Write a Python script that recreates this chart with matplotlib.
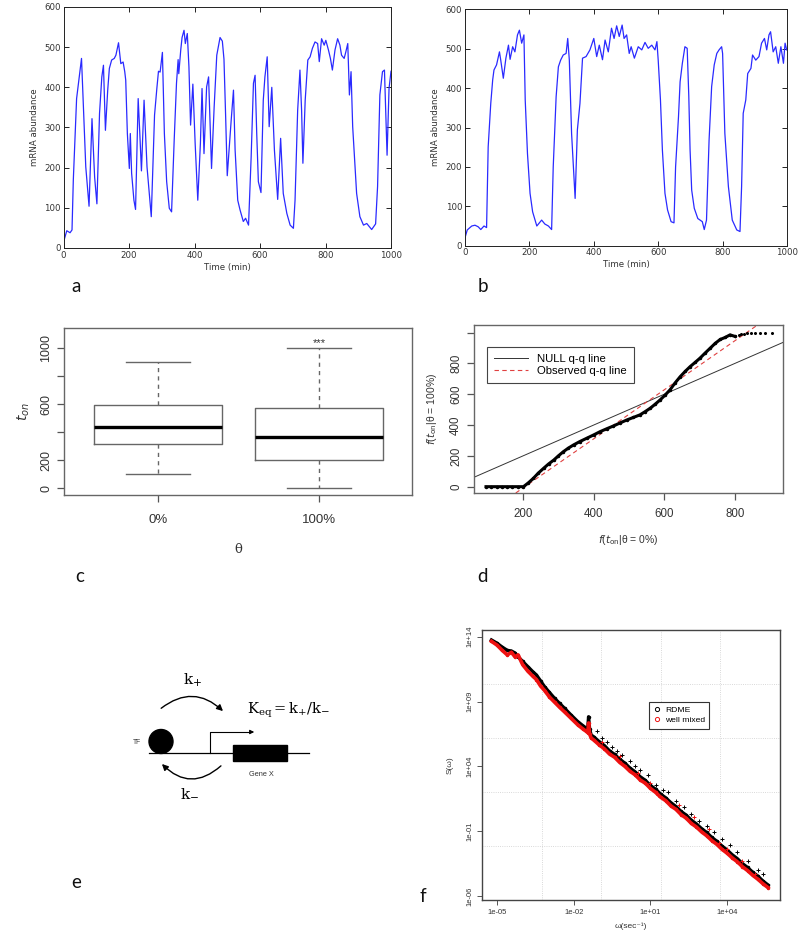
import matplotlib
matplotlib.use("Agg")
import matplotlib.pyplot as plt
import numpy as np
from matplotlib.lines import Line2D
from matplotlib.patches import Circle, FancyArrowPatch, Rectangle

W, H = 799, 940

# ---- panel a: mRNA trace (theta = 0%) ----
time_a = [0, 2, 10, 20, 26, 30, 35, 40, 45, 55, 60, 68, 78, 87, 95, 102, 110, 117, 122, 128,
          135, 140, 147, 155, 160, 168, 175, 182, 187, 190, 195, 201, 204, 208, 215, 220, 228,
          233, 238, 246, 255, 268, 278, 285, 290, 295, 302, 308, 315, 323, 330, 338, 345, 350,
          352, 358, 362, 368, 372, 378, 383, 388, 395, 402, 410, 418, 423, 429, 437, 443, 452,
          460, 468, 478, 485, 490, 495, 500, 506, 512, 519, 524, 532, 539, 549, 556, 565, 573,
          580, 585, 590, 595, 603, 610, 615, 622, 628, 636, 644, 654, 663, 671, 682, 692, 702,
          707, 715, 722, 727, 731, 738, 746, 753, 760, 768, 776, 781, 788, 796, 801, 809, 815,
          821, 829, 837, 844, 849, 857, 862, 868, 873, 878, 883, 895, 905, 916, 926, 941, 953,
          959, 966, 974, 980, 988, 994, 1000]
mrna_a = [15, 20, 43, 38, 45, 170, 270, 372, 405, 472, 368, 202, 104, 322, 177, 110, 335, 426,
          455, 293, 393, 447, 468, 472, 480, 511, 459, 463, 439, 418, 285, 198, 285, 186, 119,
          96, 372, 285, 192, 368, 202, 78, 331, 397, 440, 438, 487, 285, 165, 99, 90, 269, 410,
          469, 434, 493, 524, 542, 509, 534, 451, 306, 408, 260, 119, 260, 397, 235, 401, 426,
          198, 351, 480, 524, 515, 470, 330, 180, 250, 318, 393, 244, 119, 95, 66, 74, 57, 227,
          410, 430, 285, 165, 138, 368, 426, 476, 302, 400, 244, 121, 273, 136, 86, 57, 49,
          119, 343, 443, 343, 211, 368, 468, 476, 497, 513, 509, 464, 521, 505, 517, 493, 472,
          443, 493, 521, 505, 480, 472, 488, 509, 381, 439, 302, 136, 78, 57, 61, 46, 60, 153,
          381, 439, 443, 231, 397, 440]

# ---- panel b: mRNA trace (theta = 100%) ----
time_b = [0, 1, 7, 21, 31, 41, 49, 59, 67, 72, 80, 86, 90, 98, 107, 111, 119, 127, 135, 140,
          148, 155, 163, 169, 176, 183, 187, 194, 202, 210, 223, 238, 248, 259, 269, 274, 283,
          290, 297, 305, 314, 319, 324, 331, 342, 349, 357, 365, 376, 388, 400, 409, 417, 427,
          435, 445, 455, 463, 471, 479, 488, 494, 502, 510, 516, 526, 538, 549, 559, 569, 580,
          590, 596, 600, 607, 613, 621, 629, 640, 649, 654, 663, 668, 675, 683, 690, 695, 699,
          704, 712, 723, 737, 743, 750, 758, 766, 774, 782, 789, 797, 800, 807, 818, 830, 844,
          854, 859, 864, 872, 878, 888, 893, 903, 913, 921, 930, 937, 944, 949, 957, 965, 973,
          981, 989, 994, 999]
mrna_b = [2, 23, 40, 50, 52, 48, 41, 50, 46, 251, 361, 421, 446, 459, 492, 471, 425, 476, 509,
          473, 505, 492, 535, 547, 514, 535, 370, 234, 133, 86, 50, 65, 55, 50, 41, 200, 378,
          454, 471, 484, 488, 526, 471, 285, 120, 294, 361, 476, 480, 497, 526, 480, 509, 472,
          522, 492, 552, 526, 558, 531, 560, 526, 535, 488, 505, 476, 505, 497, 516, 501, 509,
          497, 518, 471, 370, 243, 133, 91, 61, 58, 200, 327, 416, 463, 505, 501, 380, 243,
          141, 95, 69, 61, 41, 65, 268, 404, 459, 488, 497, 505, 488, 285, 150, 65, 40, 36,
          150, 336, 370, 437, 450, 484, 471, 480, 514, 526, 497, 535, 543, 492, 505, 463, 505,
          463, 514, 497]

# ---- panel c: t_on boxplots ----
theta_labels = ["0%", "100%"]
box_med = [438, 364]
box_q1 = [312, 200]
box_q3 = [593, 569]
box_whislo = [98, 0]
box_whishi = [902, 1000]

# ---- panel d: q-q plot ----
qq_x = [95, 110, 125, 140, 155, 170, 185, 201, 215, 229, 243, 258, 272, 287, 300, 314, 328,
        343, 360, 380, 400, 418, 437, 456, 475, 494, 512, 531, 545, 560, 574, 588, 602, 616,
        630, 645, 659, 673, 687, 701, 715, 730, 744, 758, 772, 786, 800]
qq_y = [0, 0, 0, 0, 0, 0, 0, 0, 25, 54, 88, 119, 147, 173, 200, 227, 250, 271, 292, 314, 336,
        357, 376, 394, 414, 433, 449, 466, 486, 509, 535, 563, 594, 628, 672, 714, 748, 779,
        806, 834, 866, 899, 930, 955, 968, 985, 975]
qq_tail_x = [810, 818, 826, 834, 845, 858, 872, 885, 905]
qq_tail_y = [985, 990, 993, 995, 997, 998, 999, 1000, 1000]
null_line = (0.0, 1.0)          # intercept, slope
observed_line = [(205, 0), (835, 1003)]

# ---- panel f: power spectra (log10 omega, log10 S) ----
f_lx = [-5.22, -5.0, -4.8, -4.6, -4.44, -4.3, -4.18, -4.0, -3.8, -3.6, -3.46, -3.3, -3.14,
        -2.95, -2.75, -2.55, -2.36, -2.1, -1.84, -1.65, -1.51, -1.45, -1.42, -1.38, -1.32,
        -1.2, -1.0, -0.8, -0.6, -0.4, -0.2, 0.0, 0.2, 0.4, 0.6, 0.8, 1.0, 1.2, 1.4, 1.6, 1.8,
        2.0, 2.2, 2.4, 2.6, 2.8, 3.0, 3.2, 3.4, 3.6, 3.8, 4.0, 4.2, 4.4, 4.6, 4.8, 5.0, 5.2,
        5.4, 5.6]
rdme_ly = [13.75, 13.5, 13.2, 12.95, 12.9, 12.75, 12.46, 12.1, 11.7, 11.3, 11.05, 10.6, 10.14,
           9.7, 9.25, 8.85, 8.48, 7.95, 7.45, 7.15, 6.94, 7.0, 7.83, 6.9, 6.42, 6.25, 5.9,
           5.6, 5.2, 4.92, 4.55, 4.25, 3.87, 3.58, 3.2, 2.92, 2.53, 2.24, 1.86, 1.57, 1.2,
           0.9, 0.52, 0.24, -0.15, -0.44, -0.8, -1.1, -1.48, -1.78, -2.15, -2.45, -2.82,
           -3.12, -3.5, -3.8, -4.16, -4.46, -4.84, -5.15]
mixed_ly = [13.65, 13.35, 12.95, 12.6, 12.8, 12.45, 12.6, 11.85, 11.35, 10.95, 10.7, 10.2,
            9.85, 9.35, 8.95, 8.55, 8.2, 7.7, 7.2, 6.9, 6.7, 6.6, 7.35, 6.5, 6.2, 6.0, 5.65,
            5.35, 4.95, 4.7, 4.3, 4.0, 3.62, 3.35, 2.95, 2.7, 2.3, 2.0, 1.62, 1.35, 0.95,
            0.68, 0.28, 0.0, -0.4, -0.68, -1.05, -1.35, -1.72, -2.02, -2.4, -2.7, -3.06,
            -3.36, -3.74, -4.04, -4.4, -4.7, -5.05, -5.35]
rdme_out_lx = [-1.1, -0.9, -0.7, -0.5, -0.3, -0.1, 0.2, 0.4, 0.6, 0.9, 1.2, 1.5, 1.7, 2.0,
               2.3, 2.6, 2.9, 3.2, 3.5, 3.8, 4.1, 4.4, 4.8, 5.2, 5.4]
rdme_out_ly = [6.7, 6.2, 5.9, 5.5, 5.2, 4.9, 4.4, 4.0, 3.7, 3.3, 2.6, 2.2, 2.0, 1.3, 0.9,
               0.3, -0.2, -0.6, -1.1, -1.6, -2.1, -2.6, -3.3, -4.0, -4.3]
mixed_out_lx = [-0.9, -0.2, 0.5, 1.0, 1.3, 2.1, 2.7, 3.3, 3.7, 4.0, 4.6, 5.1]
mixed_out_ly = [5.9, 4.8, 3.5, 2.7, 1.8, 1.0, 0.1, -0.8, -1.9, -2.4, -3.3, -4.3]

BLUE = "#2a2aff"


def px_rect(left, top, right, bottom):
    return [left / W, 1 - bottom / H, (right - left) / W, (bottom - top) / H]


def draw_trace(ax, t, v):
    ax.plot(t, v, color=BLUE, lw=0.9)
    ax.set_xlim(0, 1000)
    ax.set_ylim(0, 600)
    ax.set_xticks(range(0, 1001, 200))
    ax.set_yticks(range(0, 601, 100))
    ax.tick_params(direction="in", top=True, right=True, length=3.5, width=0.6,
                   labelsize=6.2, labelcolor="#333333", pad=2)
    for s in ax.spines.values():
        s.set_linewidth(0.7)
        s.set_color("#222222")
    ax.set_xlabel("Time (min)", fontsize=6.2, color="#333333", labelpad=2)
    ax.set_ylabel("mRNA abundance", fontsize=6.2, color="#333333", labelpad=4)
    for lab in ax.get_xticklabels() + ax.get_yticklabels():
        lab.set_family("DejaVu Sans")
    ax.xaxis.label.set_family("DejaVu Sans")
    ax.yaxis.label.set_family("DejaVu Sans")


def r_style(ax):
    for side in ["top", "right", "left", "bottom"]:
        ax.spines[side].set_color("#666666")
        ax.spines[side].set_linewidth(1.0)
    ax.tick_params(direction="out", length=5, width=0.9, color="#555555")


fig = plt.figure(figsize=(W / 100, H / 100), dpi=100)
plt.rcParams["font.family"] = ["Liberation Sans", "DejaVu Sans"]

# a and b
ax_a = fig.add_axes(px_rect(63.5, 7, 391, 248))
draw_trace(ax_a, time_a, mrna_a)
ax_b = fig.add_axes(px_rect(465, 9.3, 787, 245.7))
draw_trace(ax_b, time_b, mrna_b)

# c
ax_c = fig.add_axes(px_rect(64, 328, 412, 495))
stats = []
for i in range(2):
    stats.append(dict(med=box_med[i], q1=box_q1[i], q3=box_q3[i],
                      whislo=box_whislo[i], whishi=box_whishi[i], fliers=[]))
ax_c.bxp(stats, positions=[1, 2], widths=0.8, showfliers=False,
         boxprops=dict(color="#666666", lw=1.0),
         medianprops=dict(color="black", lw=2.4),
         whiskerprops=dict(color="#666666", lw=1.0, ls=(0, (3, 3))),
         capprops=dict(color="#666666", lw=1.0))
ax_c.set_xlim(0.416, 2.578)
ax_c.set_ylim(-50, 1143)
r_style(ax_c)
ax_c.set_xticks([1, 2])
ax_c.set_xticklabels(theta_labels, fontsize=9.5, color="#333333")
ax_c.tick_params(axis="x", pad=9)
ax_c.set_yticks([0, 200, 400, 600, 800, 1000])
ax_c.set_yticklabels(["0", "200", "", "600", "", "1000"], rotation=90, va="center",
                     fontsize=9, color="#333333")
ax_c.set_xlabel("θ", fontsize=9.5, labelpad=12, color="#333333",
                family=["DejaVu Serif"])
ax_c.set_ylabel(r"$t_{on}$", fontsize=10, labelpad=6, color="#333333")
ax_c.text(2, 1000, "***", ha="center", va="bottom", fontsize=8, color="#333333")

# d
ax_d = fig.add_axes(px_rect(474, 325, 783, 493))
ax_d.set_xlim(61, 936)
ax_d.set_ylim(-41, 1049)
xx = np.array([61, 936])
ax_d.plot(xx, null_line[0] + null_line[1] * xx, color="#333333", lw=0.7)
(ox0, oy0), (ox1, oy1) = observed_line
ax_d.axline((ox0, oy0), (ox1, oy1), color="#e04040", lw=0.8, ls=(0, (4, 3)))
ax_d.plot(qq_x, qq_y, color="black", lw=2.2, marker="o", ms=1.5)
ax_d.plot(qq_tail_x, qq_tail_y, ls="none", marker="o", ms=1.2, color="black")
r_style(ax_d)
ax_d.set_xticks([200, 400, 600, 800])
ax_d.set_xticklabels(["200", "400", "600", "800"], fontsize=8.3, color="#333333")
ax_d.set_yticks([0, 200, 400, 600, 800, 1000])
ax_d.set_yticklabels(["0", "200", "400", "600", "800", ""], rotation=90, va="center",
                     fontsize=8.3, color="#333333")
ax_d.tick_params(axis="x", pad=6)
ax_d.set_xlabel(r"$f$($t_{\rm on}$|θ = 0%)", fontsize=7.5, labelpad=9, color="#333333")
ax_d.set_ylabel(r"$f$($t_{\rm on}$|θ = 100%)", fontsize=7.5, labelpad=8, color="#333333")
handles = [Line2D([], [], color="#333333", lw=0.7),
           Line2D([], [], color="#e04040", lw=0.8, ls=(0, (4, 3)))]
leg = ax_d.legend(handles, ["NULL q-q line", "Observed q-q line"], loc="upper left",
                  bbox_to_anchor=(0.042, 0.869), borderaxespad=0, fontsize=8.2,
                  fancybox=False, framealpha=1, edgecolor="#444444", handlelength=3,
                  borderpad=0.6, labelspacing=0.2)
leg.get_frame().set_linewidth(0.8)

# f
ax_f = fig.add_axes(px_rect(482, 630, 780, 900))
ax_f.set_xscale("log")
ax_f.set_yscale("log")
lxlim = (-5.59, 6.07)
lylim = (-6.31, 14.52)
ax_f.set_xlim(10 ** lxlim[0], 10 ** lxlim[1])
ax_f.set_ylim(10 ** lylim[0], 10 ** lylim[1])
for g in np.linspace(lxlim[0], lxlim[1], 6)[1:-1]:
    ax_f.axvline(10 ** g, color="#cccccc", lw=0.6, ls=":", zorder=0)
for g in np.linspace(lylim[0], lylim[1], 6)[1:-1]:
    ax_f.axhline(10 ** g, color="#cccccc", lw=0.6, ls=":", zorder=0)
om = 10 ** np.array(f_lx)
ax_f.plot(om, 10 ** np.array(rdme_ly), color="black", lw=2.4, marker="o", ms=1.5)
ax_f.plot(om, 10 ** np.array(mixed_ly), color="#ee1111", lw=2.6, marker="o", ms=1.5)
ax_f.plot(10 ** np.array(mixed_out_lx), 10 ** np.array(mixed_out_ly), ls="none",
          marker="+", ms=2.5, mew=0.7, color="#ee1111")
ax_f.plot(10 ** np.array(rdme_out_lx), 10 ** np.array(rdme_out_ly), ls="none",
          marker="+", ms=2.2, mew=0.7, color="black")
r_style(ax_f)
ax_f.spines[:].set_color("#444444")
ax_f.minorticks_off()
ax_f.set_xticks([1e-5, 1e-2, 1e1, 1e4])
ax_f.set_xticklabels(["1e-05", "1e-02", "1e+01", "1e+04"], fontsize=5.5, color="#333333")
ax_f.set_yticks([1e-6, 1e-1, 1e4, 1e9, 1e14])
ax_f.set_yticklabels(["1e-06", "1e-01", "1e+04", "1e+09", "1e+14"], rotation=90,
                     va="center", fontsize=5.5, color="#333333")
ax_f.tick_params(length=3.5, width=0.7, pad=3)
ax_f.set_xlabel("ω(sec⁻¹)", fontsize=6, labelpad=5, color="#333333")
ax_f.set_ylabel("S(ω)", fontsize=6, labelpad=9, color="#333333")
fh = [Line2D([], [], ls="none", marker="o", mfc="none", mec="black", ms=3, mew=0.7),
      Line2D([], [], ls="none", marker="o", mfc="none", mec="#ee1111", ms=3, mew=0.7)]
legf = ax_f.legend(fh, ["RDME", "well mixed"], loc="upper left",
                   bbox_to_anchor=(0.56, 0.734), borderaxespad=0, fontsize=6.1,
                   fancybox=False, framealpha=1, edgecolor="#333333", handlelength=0.8,
                   handletextpad=0.6, borderpad=0.5, labelspacing=0.3)
legf.get_frame().set_linewidth(0.8)

# overlay: panel letters and the schematic in panel e (pixel coordinates)
ov = fig.add_axes([0, 0, 1, 1])
ov.set_xlim(0, W)
ov.set_ylim(H, 0)
ov.axis("off")
for letter, x, y in [("a", 76, 287), ("b", 483, 287), ("c", 80, 577),
                     ("d", 482, 577), ("e", 76, 883), ("f", 423, 897)]:
    ov.text(x, y, letter, fontsize=13.5, family=["Lato", "DejaVu Sans"], ha="center",
            va="center", color="#111111")

ov.plot([149, 309], [753, 753], color="black", lw=0.9)
ov.add_patch(Circle((161, 741.5), 12, color="black"))
ov.add_patch(Rectangle((233, 745), 54, 16, color="black"))
ov.plot([210, 210, 250], [753, 732, 732], color="black", lw=0.8)
ov.add_patch(FancyArrowPatch((248, 732), (257, 732), arrowstyle="-|>", mutation_scale=6,
                             color="black", lw=0.8))
ov.add_patch(FancyArrowPatch((159, 710), (225, 713), connectionstyle="arc3,rad=-0.45",
                             arrowstyle="-|>", mutation_scale=9, color="black", lw=1.0))
ov.add_patch(FancyArrowPatch((223, 764), (160, 762), connectionstyle="arc3,rad=-0.5",
                             arrowstyle="-|>", mutation_scale=9, color="black", lw=1.0))
ov.text(137, 743, "TF", fontsize=4.8, ha="center", va="center", color="#333333")
ov.text(261, 774, "Gene X", fontsize=5.3, ha="center", va="center", color="#333333")
ov.text(193, 680, r"$\mathrm{k_{+}}$", fontsize=11, ha="center", va="center",
        math_fontfamily="dejavuserif")
ov.text(190, 793, r"$\mathrm{k_{-}}$", fontsize=11, ha="center", va="center",
        math_fontfamily="dejavuserif")
ov.text(247, 710, r"$\mathrm{K_{eq}=k_{+}/k_{-}}$", fontsize=10.5, ha="left",
        va="center", math_fontfamily="dejavuserif")

fig.savefig("out.png", dpi=100)
